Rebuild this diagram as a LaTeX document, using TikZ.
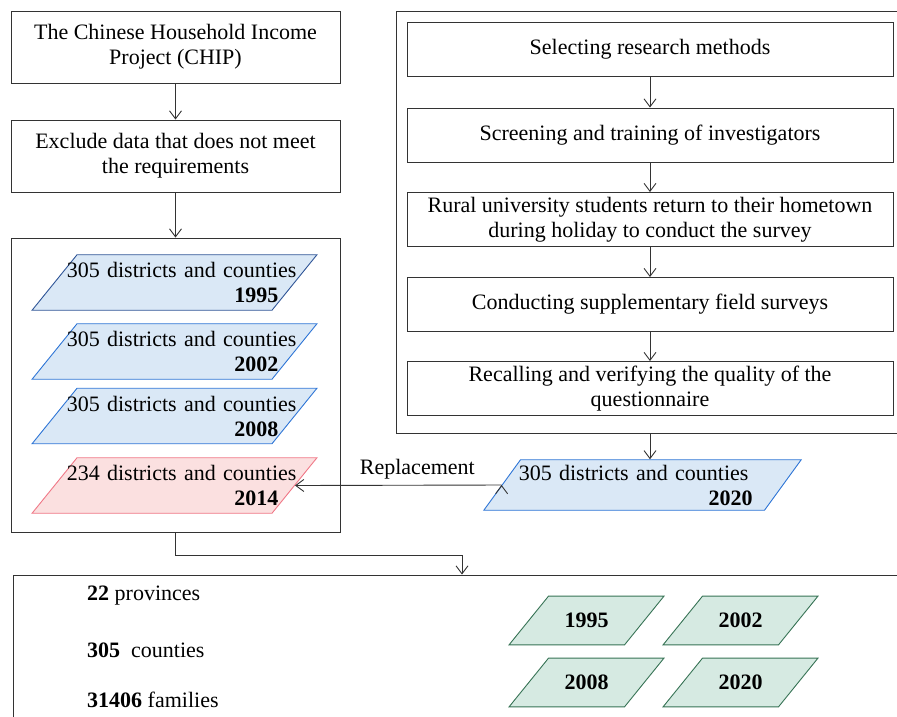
\documentclass[tikz,border=0pt]{standalone}
\usepackage{fontspec}
\setmainfont{Liberation Serif}
\usetikzlibrary{arrows.meta,shapes.geometric}

\definecolor{parablue}{RGB}{218,232,246}
\definecolor{linkblue}{RGB}{46,117,214}
\definecolor{darkblue}{RGB}{47,85,151}
\definecolor{parapink}{RGB}{251,224,224}
\definecolor{linkpink}{RGB}{240,120,135}
\definecolor{paragreen}{RGB}{214,234,226}
\definecolor{linkgreen}{RGB}{55,115,85}

\tikzset{
  box/.style={draw=black!80, line width=0.9pt, align=center, inner sep=2pt},
  frame/.style={draw=black!80, line width=0.9pt, inner sep=0pt},
  stepbox/.style={box, minimum width=486pt, minimum height=54pt},
  para/.style={trapezium, trapezium left angle=51, trapezium right angle=129,
    trapezium stretches body, line width=0.9pt, inner xsep=0pt, align=right},
  bluepara/.style={para, fill=parablue, draw=linkblue, inner xsep=-18.5pt, inner ysep=7.5pt, text width=232pt},
  greenpara/.style={para, fill=paragreen, draw=linkgreen, minimum width=155pt, inner ysep=17pt, align=center, font=\fontsize{22}{25}\selectfont\bfseries},
  fact/.style={anchor=west, inner sep=0pt}
}

\begin{document}
\begin{tikzpicture}[x=1pt, y=-1pt, font=\fontsize{22}{25}\selectfont, >={Straight Barb[length=8pt,width=12pt]}]
  \useasboundingbox (0,0) rectangle (897,716);

  \node[box, minimum width=329pt, minimum height=72pt] (chip) at (175.5,47) {The Chinese Household Income\\Project (CHIP)};
  \node[box, minimum width=329pt, minimum height=72pt] (excl) at (175.5,156) {Exclude data that does not meet\\the requirements};
  \node[frame, minimum width=329pt, minimum height=294pt] (leftframe) at (175.5,385) {};

  \node[bluepara, draw=darkblue] (d95) at (174.5,282.5) {305 districts and counties\kern-6pt\\\textbf{1995}\rule{12pt}{0pt}};
  \node[bluepara] (d02) at (174.5,351.5) {305 districts and counties\kern-6pt\\\textbf{2002}\rule{12pt}{0pt}};
  \node[bluepara] (d08) at (174.5,416) {305 districts and counties\kern-6pt\\\textbf{2008}\rule{12pt}{0pt}};
  \node[bluepara, fill=parapink, draw=linkpink] (d14) at (174.5,485.5) {234 districts and counties\kern-6pt\\\textbf{2014}\rule{12pt}{0pt}};

  \node[frame, minimum width=506pt, minimum height=422pt] (rightframe) at (649,222) {};
  \node[stepbox] (s1) at (650,49.5) {Selecting research methods};
  \node[stepbox] (s2) at (650,135) {Screening and training of investigators};
  \node[stepbox] (s3) at (650,219.5) {Rural university students return to their hometown\\during holiday to conduct the survey};
  \node[stepbox] (s4) at (650,304.5) {Conducting supplementary field surveys};
  \node[stepbox] (s5) at (650,388.5) {Recalling and verifying the quality of the\\questionnaire};

  \node[bluepara, trapezium left angle=54, trapezium right angle=126, inner xsep=-9pt, minimum width=315pt, inner ysep=5pt, text width=262pt] (d20) at (642.5,485) {305 districts and counties\rule{25pt}{0pt}\\\textbf{2020}\rule{21pt}{0pt}};

  \node[frame, minimum width=892pt, minimum height=185pt] (bottomframe) at (459,667.5) {};
  \node[fact] (prov) at (87,596) {\textbf{22} provinces};
  \node[fact] (cnty) at (87,650) {\textbf{305}\ \ counties};
  \node[fact] (fam) at (87,700) {\textbf{31406} families};
  \node[greenpara] (g95) at (586.5,620.5) {1995};
  \node[greenpara] (g02) at (740.5,620.5) {2002};
  \node[greenpara] (g08) at (586.5,682.5) {2008};
  \node[greenpara] (g20) at (740.5,682.5) {2020};

  \coordinate (join) at (462,555);

  \path[->, draw=black!80, line width=0.9pt]
  (chip) edge (excl)
  (excl) edge (leftframe.north)
  (s1) edge (s2)
  (s2) edge (s3)
  (s3) edge (s4)
  (s4) edge (s5)
  (s5.south |- rightframe.south) edge (s5.south |- d20.north)
  (d20.west) edge node [above, xshift=19pt, yshift=2pt] {Replacement} (d14.east)
  ;
  \draw[->, draw=black!80, line width=0.9pt] (leftframe.south) |- (join) -- (join |- bottomframe.north);
\end{tikzpicture}
\end{document}
